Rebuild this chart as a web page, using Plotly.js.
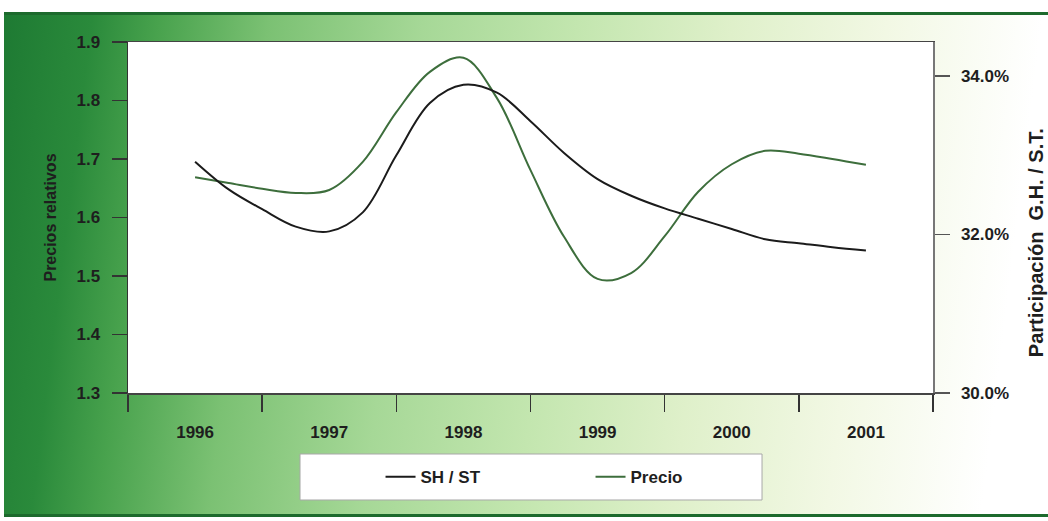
<!DOCTYPE html>
<html>
<head>
<meta charset="utf-8">
<script src="https://cdn.plot.ly/plotly-3.0.1.min.js"></script>
<style>
  html, body { margin: 0; padding: 0; background: #ffffff; }
  #wrap { position: relative; width: 1048px; height: 521px; background: #ffffff; overflow: hidden; }
  #panel {
    position: absolute; left: 4px; top: 12px; right: 0; bottom: 4px;
    border-top: 3px solid #1d6a2d;
    border-bottom: 3px solid #1d6a2d;
    background: linear-gradient(97deg, #1e7a33 0%, #2a8a3b 8%, #48a24d 14%, #7bc173 24%, #a6d897 38%, #c3e6af 52%, #dff0ca 66%, #f2f8e4 80%, #ffffff 94%);
  }
  #chart { position: absolute; left: 0; top: 0; width: 1048px; height: 521px; }
</style>
</head>
<body>
<div id="wrap">
  <div id="panel"></div>
  <div id="chart"></div>
</div>
<script>
// ---- data ----
const years = [1996, 1996.25, 1996.5, 1996.75, 1997, 1997.25, 1997.5, 1997.75, 1998, 1998.25, 1998.5, 1998.75,
               1999, 1999.25, 1999.5, 1999.75, 2000, 2000.25, 2000.5, 2000.75, 2001];
// SH / ST : participation share (right axis, fraction)
const shst = [0.3292, 0.3257, 0.3232, 0.3210, 0.3204, 0.3228, 0.3300, 0.3366, 0.3389, 0.3379, 0.3343, 0.3303,
              0.3270, 0.3249, 0.3233, 0.3220, 0.3207, 0.3194, 0.3189, 0.3184, 0.3180];
// Precio : relative prices (left axis)
const precio = [1.669, 1.659, 1.649, 1.642, 1.647, 1.695, 1.780, 1.849, 1.873, 1.804, 1.681, 1.567,
                1.495, 1.505, 1.568, 1.644, 1.691, 1.714, 1.709, 1.700, 1.690];
const yearTicks = [1996, 1997, 1998, 1999, 2000, 2001];
const yearTickText = ['1996', '1997', '1998', '1999', '2000', '2001'];
const yearBounds = [1995.5, 1996.5, 1997.5, 1998.5, 1999.5, 2000.5, 2001.5];
const leftTicks = [1.3, 1.4, 1.5, 1.6, 1.7, 1.8, 1.9];
const rightTicks = [0.30, 0.32, 0.34];
const leftTitle = 'Precios relativos';
const rightTitle = 'Participación\u00a0\u00a0G.H.\u00a0/\u00a0S.T.';

const FONT = "'Liberation Sans', Arial, sans-serif";

const traces = [
  {
    x: years, y: shst, name: 'SH / ST', yaxis: 'y2', type: 'scatter', mode: 'lines',
    line: { color: '#1b1b1b', width: 2, shape: 'spline', smoothing: 1 }
  },
  {
    x: years, y: precio, name: 'Precio', yaxis: 'y', type: 'scatter', mode: 'lines',
    line: { color: '#3d6e3c', width: 2, shape: 'spline', smoothing: 1 }
  }
];

const layout = {
  width: 1048, height: 521,
  margin: { l: 128, r: 115, t: 42, b: 128, pad: 0 },
  paper_bgcolor: 'rgba(0,0,0,0)',
  plot_bgcolor: '#ffffff',
  font: { family: FONT, color: '#1e1e1e', size: 17, weight: 'bold' },
  showlegend: true,
  legend: {
    orientation: 'h', x: 0.3137, xanchor: 'left', y: -0.1886, yanchor: 'top',
    bgcolor: 'rgba(0,0,0,0)', borderwidth: 0,
    entrywidth: 165, entrywidthmode: 'pixels',
    font: { family: FONT, size: 17, color: '#1e1e1e', weight: 'bold' }
  },
  xaxis: {
    range: [1995.5, 2001.5],
    tickmode: 'array', tickvals: yearTicks, ticktext: yearTickText,
    ticks: '', ticklabelstandoff: 23,
    tickfont: { family: FONT, size: 17, color: '#1e1e1e', weight: 'bold' },
    showline: true, linecolor: '#444', linewidth: 1.5, mirror: true,
    showgrid: false, zeroline: false,
    minor: { tickmode: 'array', tickvals: yearBounds, ticks: 'outside', ticklen: 17, tickcolor: '#333', tickwidth: 1.5, showgrid: false }
  },
  yaxis: {
    range: [1.3, 1.9],
    tickmode: 'array', tickvals: leftTicks, tickformat: '.1f',
    ticks: 'outside', ticklen: 15, tickcolor: '#333', tickwidth: 1.5,
    ticklabelstandoff: 8,
    tickfont: { family: FONT, size: 17, color: '#1e1e1e', weight: 'bold' },
    showline: true, linecolor: '#333', linewidth: 1.5,
    showgrid: false, zeroline: false,
    title: { text: leftTitle, standoff: 16, font: { family: FONT, size: 16, color: '#1e1e1e', weight: 'bold' } }
  },
  yaxis2: {
    overlaying: 'y', side: 'right',
    range: [0.30, 0.3443],
    tickmode: 'array', tickvals: rightTicks, tickformat: '.1%',
    ticks: 'outside', ticklen: 15, tickcolor: '#555', tickwidth: 1.5,
    ticklabelstandoff: 8,
    tickfont: { family: FONT, size: 17, color: '#1e1e1e', weight: 'bold' },
    showline: true, linecolor: '#777', linewidth: 1.5,
    showgrid: false, zeroline: false
  },
  annotations: [
    { text: rightTitle, xref: 'paper', yref: 'paper', x: 1.128, y: 0.427, xanchor: 'center', yanchor: 'middle',
      textangle: -90, showarrow: false,
      font: { family: FONT, size: 20, color: '#1e1e1e', weight: 'bold' } }
  ],
  shapes: [
    { type: 'rect', xref: 'paper', yref: 'paper', x0: 0.2137, x1: 0.7876, y0: -0.3048, y1: -0.1738,
      fillcolor: '#ffffff', line: { color: '#a8a8a8', width: 1 }, layer: 'below' }
  ]
};

Plotly.newPlot('chart', traces, layout, { displayModeBar: false, staticPlot: true });
</script>
</body>
</html>
